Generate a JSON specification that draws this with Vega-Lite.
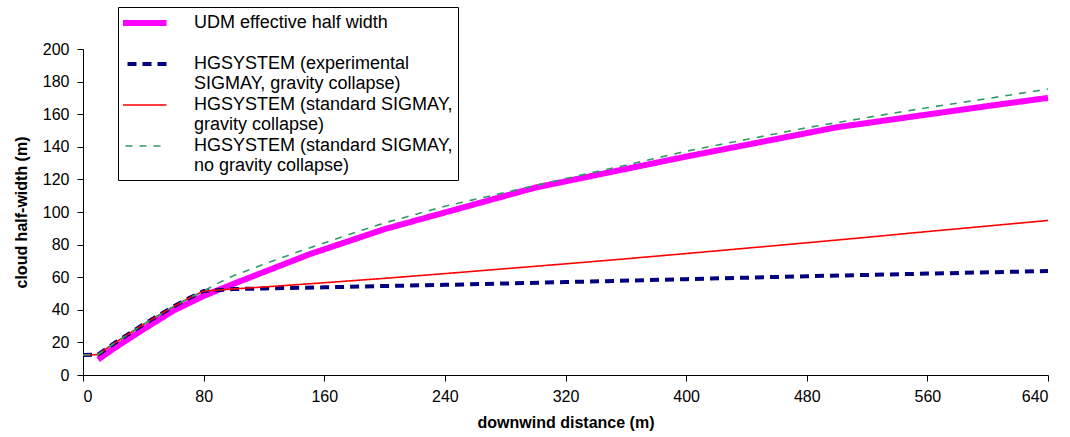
{
  "$schema": "https://vega.github.io/schema/vega-lite/v6.json",
  "autosize": "none",
  "width": 965,
  "height": 326,
  "padding": {"left": 83, "top": 49, "right": 22, "bottom": 62},
  "background": "white",
  "config": {
    "font": "Liberation Sans",
    "view": {"stroke": null},
    "axis": {
      "grid": false,
      "domainColor": "#000000",
      "domainWidth": 1,
      "tickColor": "#000000",
      "tickWidth": 1,
      "tickSize": 6,
      "labelColor": "#000000",
      "labelFontSize": 16,
      "labelFont": "Liberation Sans",
      "titleColor": "#000000",
      "titleFont": "Liberation Sans",
      "titleFontSize": 16,
      "titleFontWeight": "bold"
    }
  },
  "data": {
    "values": [
      {"series": "UDM effective half width", "x": 10, "y": 9.5},
      {"series": "UDM effective half width", "x": 20, "y": 16},
      {"series": "UDM effective half width", "x": 40, "y": 28},
      {"series": "UDM effective half width", "x": 60, "y": 39.5},
      {"series": "UDM effective half width", "x": 80, "y": 48.5},
      {"series": "UDM effective half width", "x": 100, "y": 56},
      {"series": "UDM effective half width", "x": 150, "y": 74},
      {"series": "UDM effective half width", "x": 200, "y": 89.5},
      {"series": "UDM effective half width", "x": 300, "y": 115},
      {"series": "UDM effective half width", "x": 400, "y": 134},
      {"series": "UDM effective half width", "x": 500, "y": 152},
      {"series": "UDM effective half width", "x": 600, "y": 165},
      {"series": "UDM effective half width", "x": 640, "y": 170},

      {"series": "HGSYSTEM (experimental SIGMAY, gravity collapse)", "x": 0, "y": 12.3},
      {"series": "HGSYSTEM (experimental SIGMAY, gravity collapse)", "x": 10, "y": 12.5},
      {"series": "HGSYSTEM (experimental SIGMAY, gravity collapse)", "x": 20, "y": 19},
      {"series": "HGSYSTEM (experimental SIGMAY, gravity collapse)", "x": 30, "y": 25},
      {"series": "HGSYSTEM (experimental SIGMAY, gravity collapse)", "x": 40, "y": 31},
      {"series": "HGSYSTEM (experimental SIGMAY, gravity collapse)", "x": 50, "y": 36.5},
      {"series": "HGSYSTEM (experimental SIGMAY, gravity collapse)", "x": 60, "y": 42},
      {"series": "HGSYSTEM (experimental SIGMAY, gravity collapse)", "x": 70, "y": 47},
      {"series": "HGSYSTEM (experimental SIGMAY, gravity collapse)", "x": 80, "y": 51.5},
      {"series": "HGSYSTEM (experimental SIGMAY, gravity collapse)", "x": 100, "y": 52.7},
      {"series": "HGSYSTEM (experimental SIGMAY, gravity collapse)", "x": 120, "y": 53.1},
      {"series": "HGSYSTEM (experimental SIGMAY, gravity collapse)", "x": 160, "y": 53.8},
      {"series": "HGSYSTEM (experimental SIGMAY, gravity collapse)", "x": 200, "y": 54.6},
      {"series": "HGSYSTEM (experimental SIGMAY, gravity collapse)", "x": 240, "y": 55.3},
      {"series": "HGSYSTEM (experimental SIGMAY, gravity collapse)", "x": 320, "y": 57},
      {"series": "HGSYSTEM (experimental SIGMAY, gravity collapse)", "x": 400, "y": 58.8},
      {"series": "HGSYSTEM (experimental SIGMAY, gravity collapse)", "x": 480, "y": 60.6},
      {"series": "HGSYSTEM (experimental SIGMAY, gravity collapse)", "x": 560, "y": 62.2},
      {"series": "HGSYSTEM (experimental SIGMAY, gravity collapse)", "x": 640, "y": 63.8},

      {"series": "HGSYSTEM (standard SIGMAY, gravity collapse)", "x": 0, "y": 12.3},
      {"series": "HGSYSTEM (standard SIGMAY, gravity collapse)", "x": 10, "y": 12.5},
      {"series": "HGSYSTEM (standard SIGMAY, gravity collapse)", "x": 20, "y": 19},
      {"series": "HGSYSTEM (standard SIGMAY, gravity collapse)", "x": 30, "y": 25},
      {"series": "HGSYSTEM (standard SIGMAY, gravity collapse)", "x": 40, "y": 31},
      {"series": "HGSYSTEM (standard SIGMAY, gravity collapse)", "x": 50, "y": 36.5},
      {"series": "HGSYSTEM (standard SIGMAY, gravity collapse)", "x": 60, "y": 42},
      {"series": "HGSYSTEM (standard SIGMAY, gravity collapse)", "x": 70, "y": 47},
      {"series": "HGSYSTEM (standard SIGMAY, gravity collapse)", "x": 80, "y": 51.5},
      {"series": "HGSYSTEM (standard SIGMAY, gravity collapse)", "x": 100, "y": 52.8},
      {"series": "HGSYSTEM (standard SIGMAY, gravity collapse)", "x": 120, "y": 54},
      {"series": "HGSYSTEM (standard SIGMAY, gravity collapse)", "x": 160, "y": 56.6},
      {"series": "HGSYSTEM (standard SIGMAY, gravity collapse)", "x": 200, "y": 59.3},
      {"series": "HGSYSTEM (standard SIGMAY, gravity collapse)", "x": 240, "y": 62.2},
      {"series": "HGSYSTEM (standard SIGMAY, gravity collapse)", "x": 280, "y": 65.2},
      {"series": "HGSYSTEM (standard SIGMAY, gravity collapse)", "x": 320, "y": 68.2},
      {"series": "HGSYSTEM (standard SIGMAY, gravity collapse)", "x": 360, "y": 71.3},
      {"series": "HGSYSTEM (standard SIGMAY, gravity collapse)", "x": 400, "y": 74.5},
      {"series": "HGSYSTEM (standard SIGMAY, gravity collapse)", "x": 440, "y": 77.8},
      {"series": "HGSYSTEM (standard SIGMAY, gravity collapse)", "x": 480, "y": 81.1},
      {"series": "HGSYSTEM (standard SIGMAY, gravity collapse)", "x": 520, "y": 84.5},
      {"series": "HGSYSTEM (standard SIGMAY, gravity collapse)", "x": 560, "y": 88},
      {"series": "HGSYSTEM (standard SIGMAY, gravity collapse)", "x": 600, "y": 91.4},
      {"series": "HGSYSTEM (standard SIGMAY, gravity collapse)", "x": 640, "y": 94.8},

      {"series": "HGSYSTEM (standard SIGMAY, no gravity collapse)", "x": 0, "y": 12.3},
      {"series": "HGSYSTEM (standard SIGMAY, no gravity collapse)", "x": 10, "y": 12.5},
      {"series": "HGSYSTEM (standard SIGMAY, no gravity collapse)", "x": 20, "y": 19},
      {"series": "HGSYSTEM (standard SIGMAY, no gravity collapse)", "x": 30, "y": 25},
      {"series": "HGSYSTEM (standard SIGMAY, no gravity collapse)", "x": 40, "y": 31},
      {"series": "HGSYSTEM (standard SIGMAY, no gravity collapse)", "x": 50, "y": 36.5},
      {"series": "HGSYSTEM (standard SIGMAY, no gravity collapse)", "x": 60, "y": 42},
      {"series": "HGSYSTEM (standard SIGMAY, no gravity collapse)", "x": 70, "y": 47},
      {"series": "HGSYSTEM (standard SIGMAY, no gravity collapse)", "x": 80, "y": 51.5},
      {"series": "HGSYSTEM (standard SIGMAY, no gravity collapse)", "x": 90, "y": 56.5},
      {"series": "HGSYSTEM (standard SIGMAY, no gravity collapse)", "x": 100, "y": 61},
      {"series": "HGSYSTEM (standard SIGMAY, no gravity collapse)", "x": 120, "y": 68},
      {"series": "HGSYSTEM (standard SIGMAY, no gravity collapse)", "x": 140, "y": 74.7},
      {"series": "HGSYSTEM (standard SIGMAY, no gravity collapse)", "x": 160, "y": 81},
      {"series": "HGSYSTEM (standard SIGMAY, no gravity collapse)", "x": 180, "y": 87.3},
      {"series": "HGSYSTEM (standard SIGMAY, no gravity collapse)", "x": 200, "y": 93.3},
      {"series": "HGSYSTEM (standard SIGMAY, no gravity collapse)", "x": 240, "y": 103.5},
      {"series": "HGSYSTEM (standard SIGMAY, no gravity collapse)", "x": 280, "y": 112},
      {"series": "HGSYSTEM (standard SIGMAY, no gravity collapse)", "x": 320, "y": 120.5},
      {"series": "HGSYSTEM (standard SIGMAY, no gravity collapse)", "x": 360, "y": 128.7},
      {"series": "HGSYSTEM (standard SIGMAY, no gravity collapse)", "x": 400, "y": 137.3},
      {"series": "HGSYSTEM (standard SIGMAY, no gravity collapse)", "x": 440, "y": 144.5},
      {"series": "HGSYSTEM (standard SIGMAY, no gravity collapse)", "x": 480, "y": 151.7},
      {"series": "HGSYSTEM (standard SIGMAY, no gravity collapse)", "x": 520, "y": 158},
      {"series": "HGSYSTEM (standard SIGMAY, no gravity collapse)", "x": 560, "y": 164},
      {"series": "HGSYSTEM (standard SIGMAY, no gravity collapse)", "x": 600, "y": 169.6},
      {"series": "HGSYSTEM (standard SIGMAY, no gravity collapse)", "x": 640, "y": 175.4}
    ]
  },
  "mark": {"type": "line", "strokeCap": "butt", "strokeJoin": "miter"},
  "encoding": {
    "x": {
      "field": "x",
      "type": "quantitative",
      "title": "downwind distance (m)",
      "scale": {"domain": [0, 640], "nice": false, "zero": false},
      "axis": {"values": [0, 80, 160, 240, 320, 400, 480, 560, 640], "labelPadding": 7, "titlePadding": 10}
    },
    "y": {
      "field": "y",
      "type": "quantitative",
      "title": "cloud half-width (m)",
      "scale": {"domain": [0, 200], "nice": false},
      "axis": {"values": [0, 20, 40, 60, 80, 100, 120, 140, 160, 180, 200], "labelPadding": 8, "titlePadding": 13}
    },
    "color": {
      "field": "series",
      "type": "nominal",
      "title": null,
      "scale": {
        "domain": [
          "UDM effective half width",
          "HGSYSTEM (experimental SIGMAY, gravity collapse)",
          "HGSYSTEM (standard SIGMAY, gravity collapse)",
          "HGSYSTEM (standard SIGMAY, no gravity collapse)"
        ],
        "range": ["#FF00FF", "#000080", "#FF0000", "#339966"]
      },
      "legend": {
        "orient": "none",
        "legendX": 35,
        "legendY": -42,
        "direction": "vertical",
        "symbolType": "stroke",
        "symbolSize": 4761,
        "clipHeight": 22,
        "labelFont": "Liberation Sans",
        "labelFontSize": 18,
        "labelColor": "#000000",
        "labelOffset": 53,
        "labelLimit": 400,
        "rowPadding": 1,
        "padding": 5,
        "strokeColor": "#000000",
        "fillColor": "#FFFFFF",
        "labelExpr": "datum.label == 'UDM effective half width' ? ['UDM effective half width', ' '] : datum.label == 'HGSYSTEM (experimental SIGMAY, gravity collapse)' ? ['HGSYSTEM (experimental', 'SIGMAY, gravity collapse)'] : datum.label == 'HGSYSTEM (standard SIGMAY, gravity collapse)' ? ['HGSYSTEM (standard SIGMAY,', 'gravity collapse)'] : ['HGSYSTEM (standard SIGMAY,', 'no gravity collapse)']",
        "encode": {
          "symbols": {
            "update": {
              "strokeWidth": {"signal": "datum.value == 'UDM effective half width' ? 6 : datum.value == 'HGSYSTEM (experimental SIGMAY, gravity collapse)' ? 4 : 1.6"}
            }
          }
        }
      }
    },
    "strokeDash": {
      "field": "series",
      "type": "nominal",
      "title": null,
      "scale": {
        "domain": [
          "UDM effective half width",
          "HGSYSTEM (experimental SIGMAY, gravity collapse)",
          "HGSYSTEM (standard SIGMAY, gravity collapse)",
          "HGSYSTEM (standard SIGMAY, no gravity collapse)"
        ],
        "range": [[1, 0], [9, 6], [1, 0], [7, 7]]
      }
    },
    "strokeWidth": {
      "condition": [
        {"test": "datum.series == 'UDM effective half width'", "value": 6},
        {"test": "datum.series == 'HGSYSTEM (experimental SIGMAY, gravity collapse)'", "value": 4}
      ],
      "value": 1.6
    }
  }
}
